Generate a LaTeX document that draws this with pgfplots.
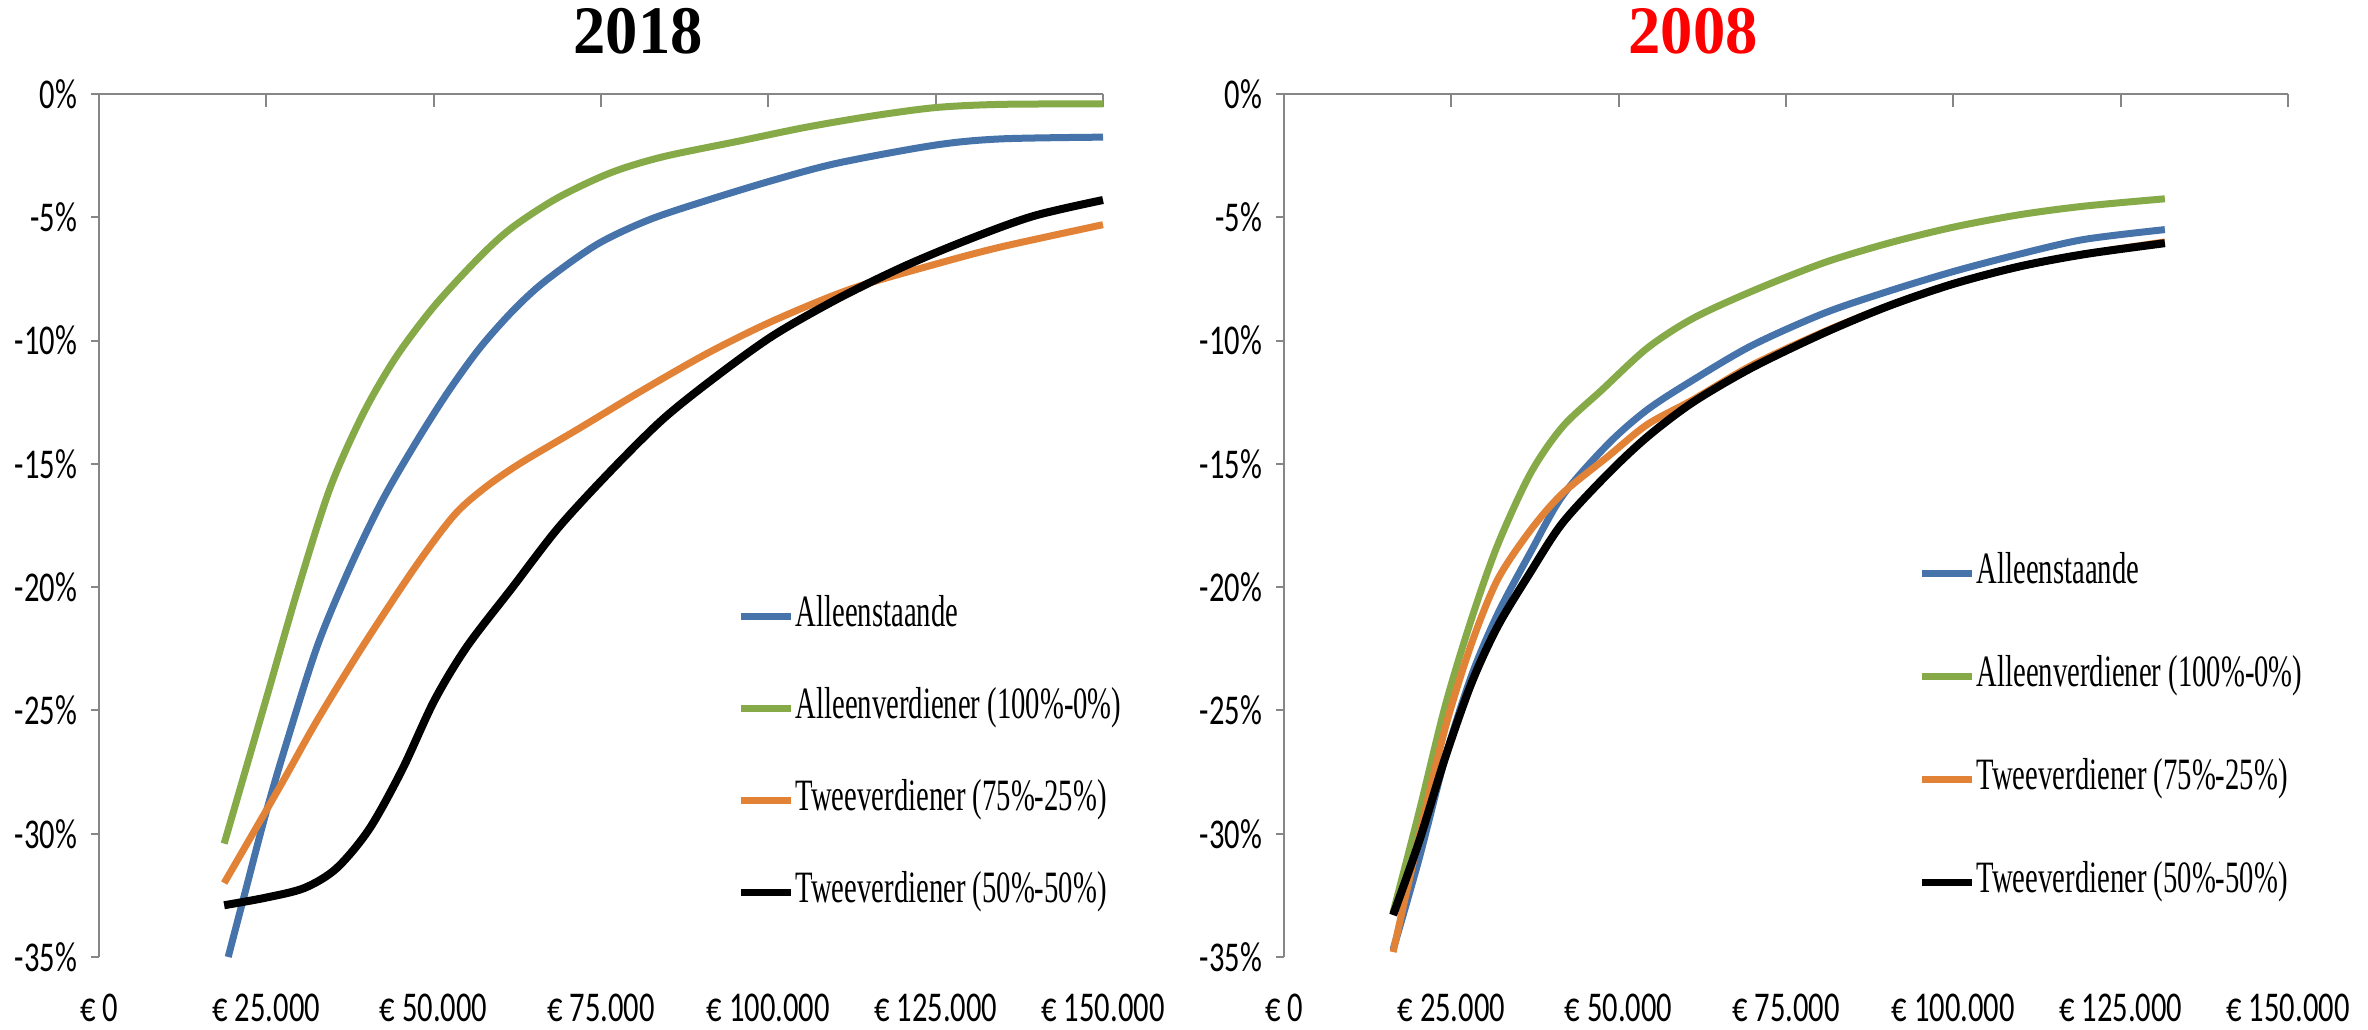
\documentclass[border=0pt]{standalone}
\usepackage{pgfplots}
\pgfplotsset{compat=1.18}
\usepackage{fontspec}
\setmainfont{Liberation Serif}
\newfontfamily\tickfont{Carlito}[FakeStretch=0.72]
\newfontfamily\legfont{Liberation Serif}[FakeStretch=0.64]
\newfontfamily\titlefont{Liberation Serif}[FakeStretch=0.95]
\definecolor{cblue}{RGB}{70,115,170}
\definecolor{cgreen}{RGB}{134,170,72}
\definecolor{corange}{RGB}{225,130,55}
\definecolor{axgray}{RGB}{134,134,134}

\pgfplotsset{
 myaxis/.style={
  scale only axis, width=251pt, height=215.75pt,
  anchor=south west,
  xmin=0,xmax=150000,ymin=-35,ymax=0,
  axis y line*=left, axis x line*=bottom,
  x axis line style={draw=none},
  y axis line style={draw=axgray,line width=0.5pt},
  xtick={0,25000,50000,75000,100000,125000,150000},
  xticklabels={€ 0,€ 25.000,€ 50.000,€ 75.000,€ 100.000,€ 125.000,€ 150.000},
  ytick={-35,-30,-25,-20,-15,-10,-5,0},
  yticklabels={-35\%,-30\%,-25\%,-20\%,-15\%,-10\%,-5\%,0\%},
  scaled x ticks=false,
  xtick style={draw=none},
  ytick style={draw=axgray,line width=0.5pt},
  tick align=outside, major tick length=2pt,
  ticklabel style={font=\tickfont\fontsize{10.6}{12}\selectfont},
  xticklabel style={anchor=base, yshift=-14pt},
  yticklabel style={anchor=east},
  clip=false,
  legend cell align=left,
  legend style={draw=none, fill=none, inner sep=0pt, row sep=14pt,
    font=\legfont\fontsize{11.2}{12}\selectfont,
    nodes={inner sep=0pt, text height=7pt, text depth=2pt},
    column sep=0.3pt},
  legend image code/.code={\draw[#1,line width=1.8pt] (0pt,0pt) -- (12.5pt,0pt);},
  every axis plot/.append style={line width=1.75pt, smooth, tension=0.5},
 },
}

\begin{document}
\begin{tikzpicture}
\useasboundingbox (0,0) rectangle (592pt,257.25pt);

% ---------------- 2018 ----------------
\begin{axis}[myaxis, at={(24.75pt,18pt)},
  legend style={at={(0.635,0.416)}, anchor=north west}]
\draw[axgray,line width=0.5pt] (axis cs:0,0) -- (axis cs:150000,0);
\draw[axgray,line width=0.5pt] (axis cs:0,0) -- ++(0pt,-3.25pt);
\draw[axgray,line width=0.5pt] (axis cs:25000,0) -- ++(0pt,-3.25pt);
\draw[axgray,line width=0.5pt] (axis cs:50000,0) -- ++(0pt,-3.25pt);
\draw[axgray,line width=0.5pt] (axis cs:75000,0) -- ++(0pt,-3.25pt);
\draw[axgray,line width=0.5pt] (axis cs:100000,0) -- ++(0pt,-3.25pt);
\draw[axgray,line width=0.5pt] (axis cs:125000,0) -- ++(0pt,-3.25pt);
\draw[axgray,line width=0.5pt] (axis cs:150000,0) -- ++(0pt,-3.25pt);
\addplot[cblue] coordinates {(19300,-35) (21900,-32.3) (24800,-29.3) (27700,-26.6) (32600,-22.4) (37500,-19.2) (42300,-16.5) (47200,-14.2) (52100,-12.1) (56900,-10.3) (61800,-8.8) (66600,-7.6) (74400,-6.1) (82200,-5.1) (91000,-4.3) (100700,-3.5) (110400,-2.8) (125000,-2.07) (134800,-1.82) (150000,-1.75)};
\addlegendentry{Alleenstaande}
\addplot[cgreen] coordinates {(18700,-30.4) (24800,-24.7) (29700,-20.1) (34500,-16.0) (39400,-13.0) (44300,-10.7) (50100,-8.6) (56900,-6.6) (61800,-5.4) (68600,-4.2) (76400,-3.2) (84200,-2.55) (95800,-1.9) (105600,-1.35) (115300,-0.9) (125000,-0.55) (134800,-0.42) (150000,-0.4)};
\addlegendentry{Alleenverdiener (100\%-0\%)}
\addplot[corange] coordinates {(18700,-32.0) (26800,-28.2) (32600,-25.4) (39400,-22.4) (47200,-19.2) (53000,-17.1) (57500,-16.0) (62800,-15.0) (71500,-13.6) (81300,-12.0) (91000,-10.5) (100700,-9.2) (112400,-7.9) (125000,-6.9) (134800,-6.2) (150000,-5.3)};
\addlegendentry{Tweeverdiener (75\%-25\%)}
\addplot[black,line width=2pt] coordinates {(18700,-32.9) (24800,-32.6) (30700,-32.2) (35500,-31.4) (40400,-29.8) (45300,-27.4) (50100,-24.6) (55000,-22.4) (61800,-20.0) (68600,-17.6) (76400,-15.3) (84200,-13.2) (92000,-11.5) (100700,-9.8) (110400,-8.3) (120200,-7.0) (129900,-5.9) (139600,-4.95) (150000,-4.3)};
\addlegendentry{Tweeverdiener (50\%-50\%)}
\end{axis}

% ---------------- 2008 ----------------
\begin{axis}[myaxis, at={(321pt,18pt)},
  legend style={at={(0.631,0.466)}, anchor=north west, row sep=16.75pt}]
\draw[axgray,line width=0.5pt] (axis cs:0,0) -- (axis cs:150000,0);
\draw[axgray,line width=0.5pt] (axis cs:0,0) -- ++(0pt,-3.25pt);
\draw[axgray,line width=0.5pt] (axis cs:25000,0) -- ++(0pt,-3.25pt);
\draw[axgray,line width=0.5pt] (axis cs:50000,0) -- ++(0pt,-3.25pt);
\draw[axgray,line width=0.5pt] (axis cs:75000,0) -- ++(0pt,-3.25pt);
\draw[axgray,line width=0.5pt] (axis cs:100000,0) -- ++(0pt,-3.25pt);
\draw[axgray,line width=0.5pt] (axis cs:125000,0) -- ++(0pt,-3.25pt);
\draw[axgray,line width=0.5pt] (axis cs:150000,0) -- ++(0pt,-3.25pt);
\addplot[cblue] coordinates {(16300,-34.7) (20200,-31.0) (24100,-26.9) (28000,-23.6) (31900,-21.1) (36800,-18.6) (41600,-16.3) (48400,-14.2) (54300,-12.8) (61100,-11.6) (69900,-10.2) (80600,-8.9) (90300,-8.0) (100000,-7.2) (109800,-6.5) (119500,-5.9) (131600,-5.5)};
\addlegendentry{Alleenstaande}
\addplot[cgreen] coordinates {(16300,-33.2) (20200,-29.1) (24100,-24.8) (28000,-21.3) (31900,-18.3) (36800,-15.4) (41600,-13.5) (47500,-12.0) (54300,-10.3) (61100,-9.1) (69900,-8.0) (80600,-6.85) (90300,-6.05) (100000,-5.4) (109800,-4.9) (119500,-4.55) (131600,-4.25)};
\addlegendentry{Alleenverdiener (100\%-0\%)}
\addplot[corange] coordinates {(16300,-34.8) (20200,-30.1) (24100,-25.7) (28000,-22.3) (31900,-19.7) (36800,-17.7) (41600,-16.2) (48400,-14.7) (54300,-13.4) (61100,-12.4) (69900,-11.0) (80600,-9.65) (90300,-8.6) (100000,-7.7) (109800,-7.0) (119500,-6.5) (131600,-6.0)};
\addlegendentry{Tweeverdiener (75\%-25\%)}
\addplot[black,line width=2pt] coordinates {(16300,-33.3) (20200,-30.3) (24100,-26.9) (28000,-23.9) (31900,-21.6) (36800,-19.4) (41600,-17.4) (48400,-15.4) (54300,-13.9) (61100,-12.5) (69900,-11.1) (80600,-9.7) (90300,-8.6) (100000,-7.7) (109800,-7.0) (119500,-6.5) (131600,-6.05)};
\addlegendentry{Tweeverdiener (50\%-50\%)}
\end{axis}

\node[anchor=base, font=\titlefont\bfseries\fontsize{17}{18}\selectfont] at (159.5pt,243.75pt) {2018};
\node[anchor=base, text=red, font=\titlefont\bfseries\fontsize{17}{18}\selectfont] at (423.25pt,243.75pt) {2008};
\end{tikzpicture}
\end{document}
